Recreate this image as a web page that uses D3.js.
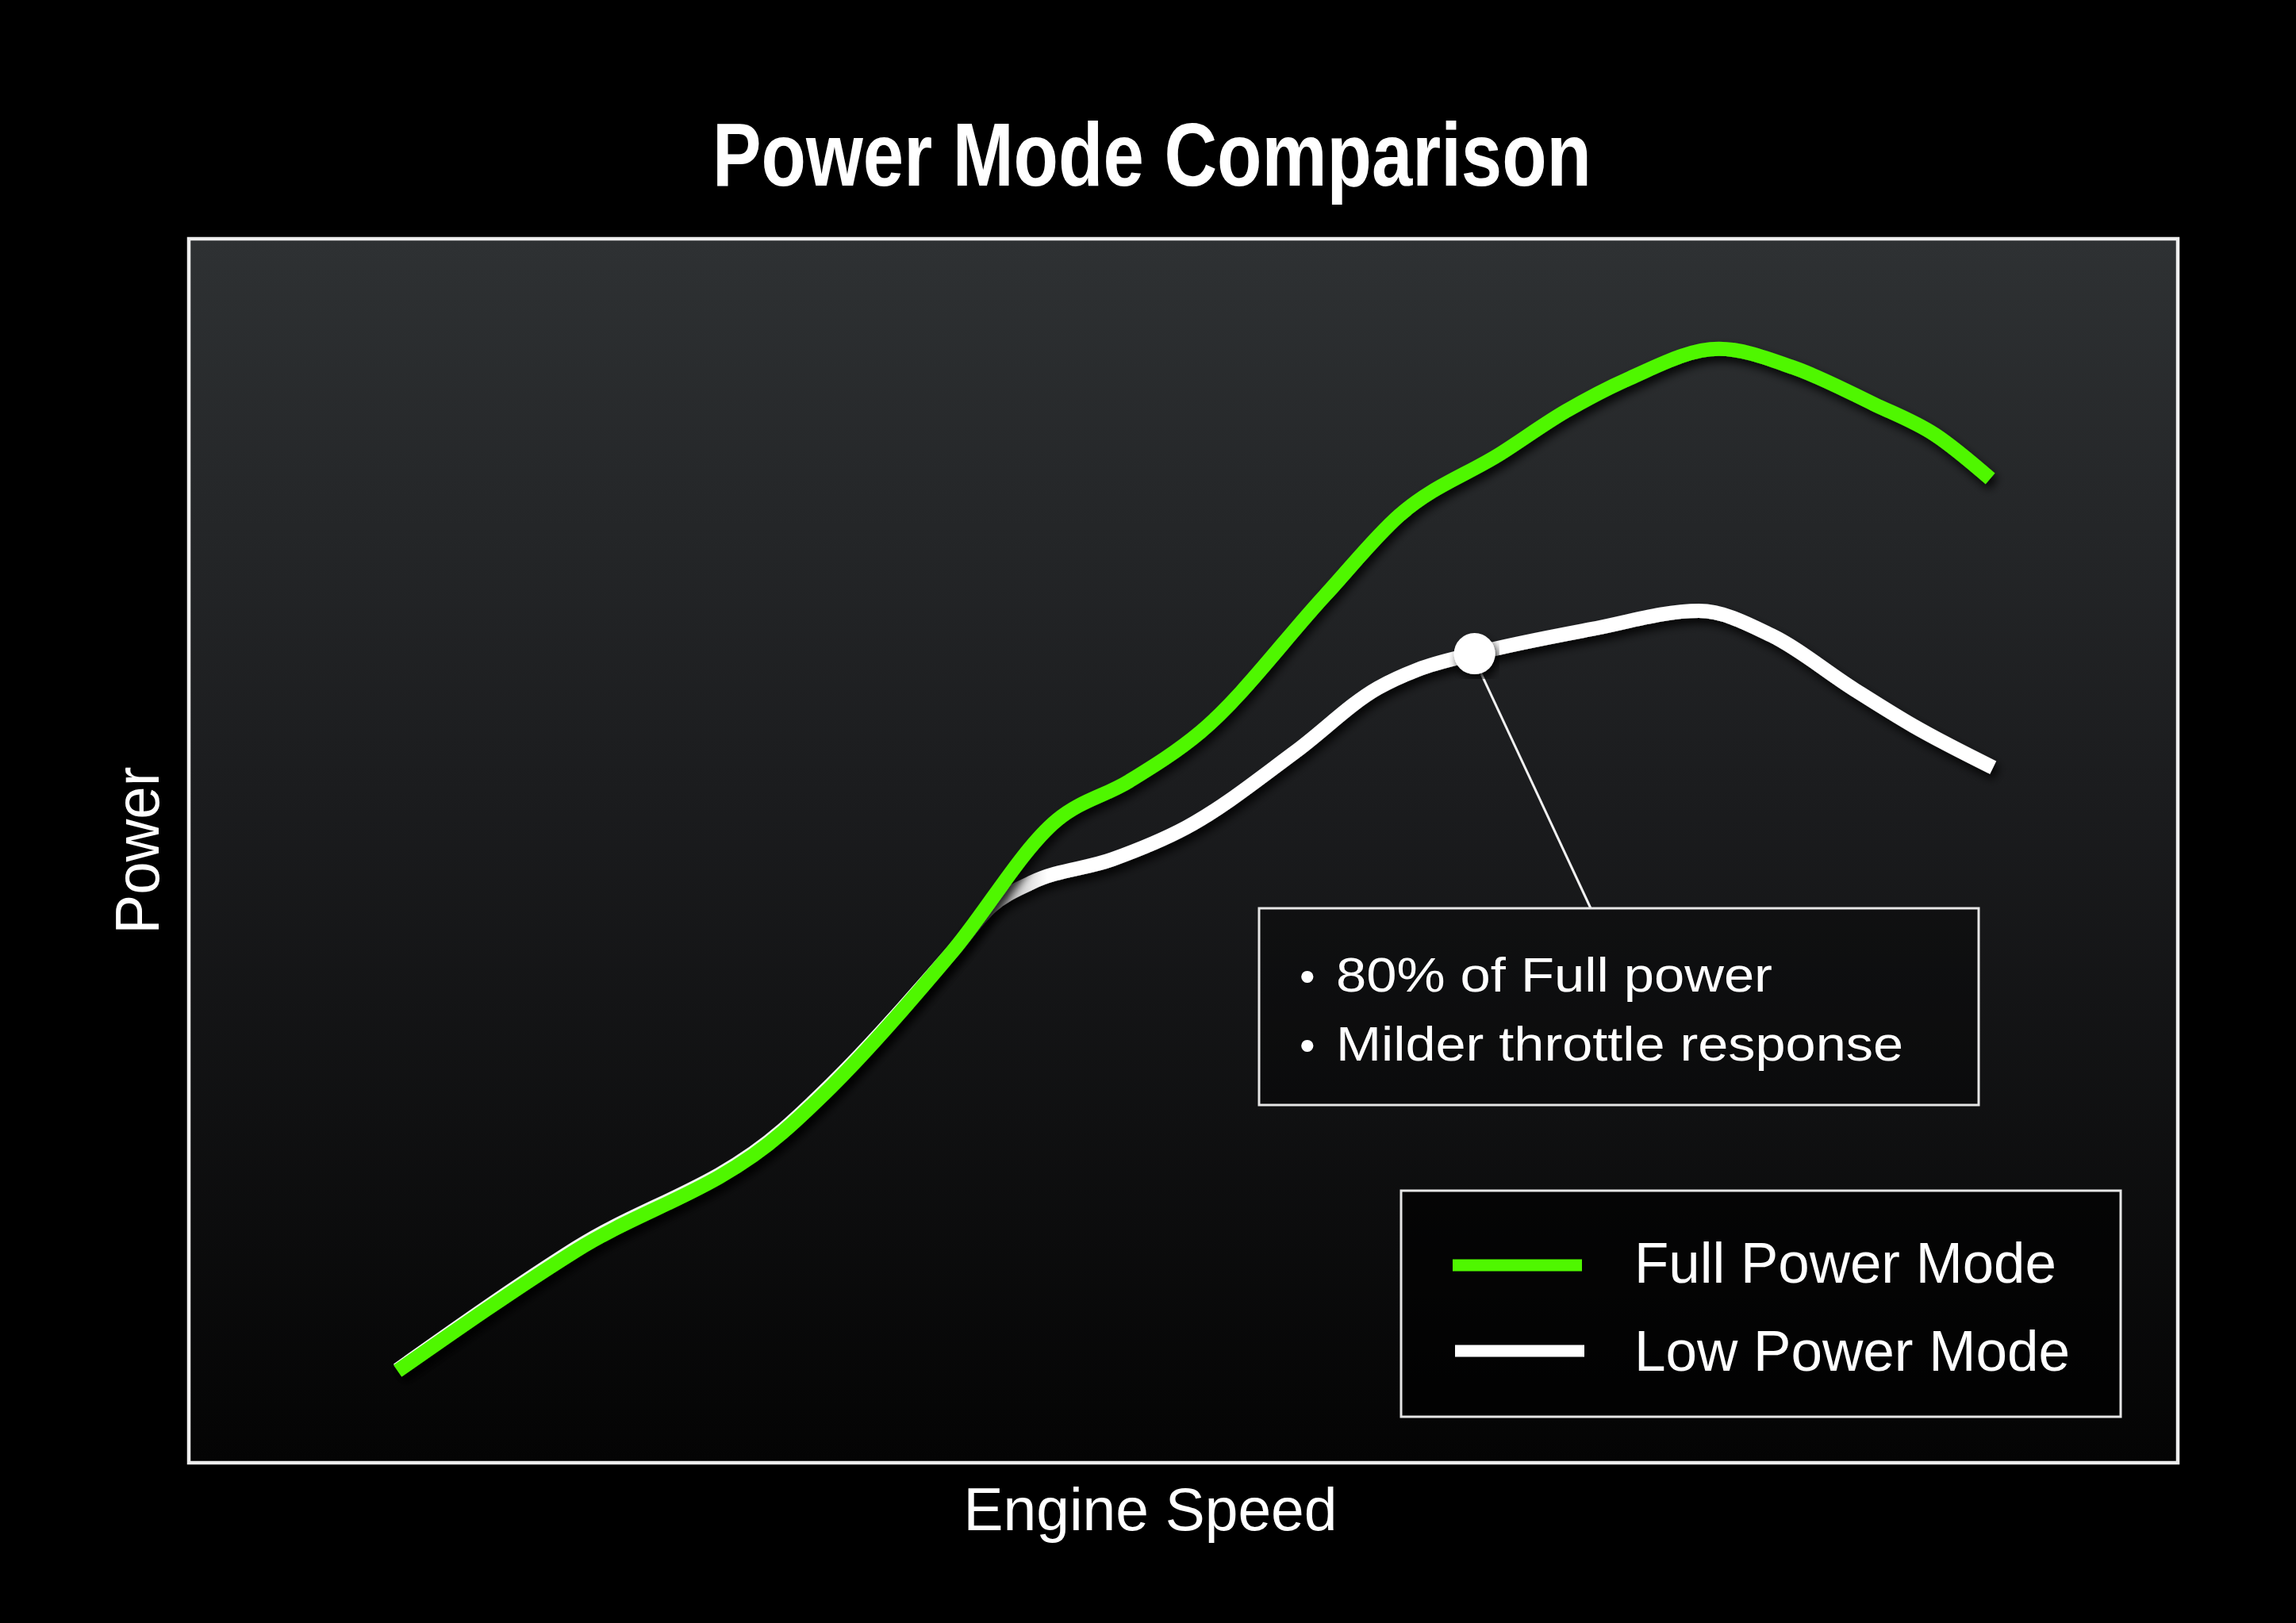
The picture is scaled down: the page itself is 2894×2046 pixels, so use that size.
<!DOCTYPE html>
<html>
<head>
<meta charset="utf-8">
<script src="https://cdn.jsdelivr.net/npm/d3@7"></script>
<style>
  body { margin: 0; background: #000; }
  text { font-family: "Liberation Sans Narrow", "Liberation Sans", Arial, sans-serif; fill: #fff; }
</style>
</head>
<body>
<script>
// values (engine speed in rpm, power in % of axis)
var fullRpm   = [1470, 2720, 4180, 4520, 5370, 6110, 6620, 7120, 8000, 8520, 9240, 9690, 10140, 10770, 11290, 11860, 12290, 12680];
var fullPower = [7.5, 17.3, 27.0, 30.7, 41.7, 52.5, 55.7, 59.7, 70.9, 77.4, 82.5, 85.9, 88.6, 91.0, 89.5, 86.5, 84.0, 80.4];
var lowRpm    = [1470, 2720, 4180, 4520, 5370, 5650, 5930, 6500, 7020, 7790, 8370, 8650, 9050, 9870, 10630, 11140, 11720, 12140, 12700];
var lowPower  = [7.6, 17.5, 27.2, 30.9, 41.7, 45.5, 47.4, 49.3, 51.9, 58.1, 63.3, 64.8, 66.1, 68.1, 69.6, 67.6, 63.2, 60.2, 56.8];
var markerIndex = 12;

var seriesNames  = ["Full Power Mode", "Low Power Mode"];
var seriesColors = ["#4ff700", "#ffffff"];
var noteLines = ["80% of Full power", "Milder throttle response"];

var w = 2894;
var h = 2046;

var svg = d3.select("body")
    .append("svg")
    .attr("width", w)
    .attr("height", h);

var defs = svg.append("defs");

var bg = defs.append("linearGradient")
    .attr("id", "plotBg")
    .attr("x1", 0).attr("y1", 0).attr("x2", 0).attr("y2", 1);
bg.append("stop").attr("offset", 0).attr("stop-color", "#2e3133");
bg.append("stop").attr("offset", 0.45).attr("stop-color", "#1b1c1e");
bg.append("stop").attr("offset", 1).attr("stop-color", "#040404");

// shading where the white curve comes out from under the green one
var lowGrad = defs.append("linearGradient")
    .attr("id", "lowGrad")
    .attr("gradientUnits", "userSpaceOnUse")
    .attr("x1", 1150).attr("y1", 0).attr("x2", 1320).attr("y2", 0);
lowGrad.append("stop").attr("offset", 0).attr("stop-color", "#ffffff");
lowGrad.append("stop").attr("offset", 0.33).attr("stop-color", "#6e6e6e");
lowGrad.append("stop").attr("offset", 1).attr("stop-color", "#ffffff");

var shadow = defs.append("filter")
    .attr("id", "shadow")
    .attr("x", "-10%").attr("y", "-10%").attr("width", "120%").attr("height", "120%");
shadow.append("feDropShadow")
    .attr("dx", 4).attr("dy", 7)
    .attr("stdDeviation", 6)
    .attr("flood-color", "#000")
    .attr("flood-opacity", 0.85);

var x = d3.scaleLinear().domain([0, 14000]).range([238, 2745]);
var y = d3.scaleLinear().domain([0, 100]).range([1844, 301]);

// plot area
svg.append("rect")
    .attr("x", x(0))
    .attr("y", y(100))
    .attr("width", x(14000) - x(0))
    .attr("height", y(0) - y(100))
    .attr("fill", "url(#plotBg)")
    .attr("stroke", "#eeeeee")
    .attr("stroke-width", 4.5);

// title and axis labels
svg.append("text")
    .text("Power Mode Comparison")
    .attr("x", 1452)
    .attr("y", 234)
    .attr("text-anchor", "middle")
    .attr("font-size", "114px")
    .attr("font-weight", "bold")
    .attr("textLength", 1108)
    .attr("lengthAdjust", "spacingAndGlyphs");

svg.append("text")
    .text("Engine Speed")
    .attr("x", 1450)
    .attr("y", 1929)
    .attr("text-anchor", "middle")
    .attr("font-size", "76px")
    .attr("textLength", 471)
    .attr("lengthAdjust", "spacingAndGlyphs");

svg.append("text")
    .text("Power")
    .attr("transform", "translate(200,1072) rotate(-90)")
    .attr("text-anchor", "middle")
    .attr("font-size", "78px")
    .attr("textLength", 211)
    .attr("lengthAdjust", "spacingAndGlyphs");

// annotation box + leader line
var mx = x(lowRpm[markerIndex]);
var my = y(lowPower[markerIndex]);

svg.append("line")
    .attr("x1", mx + 6)
    .attr("y1", my + 20)
    .attr("x2", 2005)
    .attr("y2", 1145)
    .attr("stroke", "#f2f2f2")
    .attr("stroke-width", 3);

svg.append("rect")
    .attr("x", 1587)
    .attr("y", 1145)
    .attr("width", 907)
    .attr("height", 248)
    .attr("fill", "#000")
    .attr("fill-opacity", 0.3)
    .attr("stroke", "#e6e6e6")
    .attr("stroke-width", 3);

var note = svg.append("g");
note.selectAll(".bullet")
    .data(noteLines)
    .enter()
    .append("text")
    .attr("class", "bullet")
    .text("•")
    .attr("x", 1638)
    .attr("y", function(d, i) { return 1250 + i * 87; })
    .attr("font-size", "56px");
note.selectAll(".line")
    .data(noteLines)
    .enter()
    .append("text")
    .attr("class", "line")
    .text(function(d) { return d; })
    .attr("x", 1684)
    .attr("y", function(d, i) { return 1250 + i * 87; })
    .attr("font-size", "61px")
    .attr("textLength", function(d, i) { return i == 0 ? 550 : 715; })
    .attr("lengthAdjust", "spacingAndGlyphs");

// curves
var line = d3.line()
    .x(function(d) { return x(d[0]); })
    .y(function(d) { return y(d[1]); })
    .curve(d3.curveMonotoneX);

var lowData = d3.zip(lowRpm, lowPower);
var fullData = d3.zip(fullRpm, fullPower);

svg.append("path")
    .datum(lowData)
    .attr("d", line)
    .attr("fill", "none")
    .attr("stroke", "url(#lowGrad)")
    .attr("stroke-width", 18)
    .attr("filter", "url(#shadow)");

svg.append("path")
    .datum(fullData)
    .attr("d", line)
    .attr("fill", "none")
    .attr("stroke", seriesColors[0])
    .attr("stroke-width", 18)
    .attr("filter", "url(#shadow)");

svg.append("circle")
    .attr("cx", mx)
    .attr("cy", my)
    .attr("r", 26)
    .attr("fill", "#fff")
    .attr("filter", "url(#shadow)");

// legend
svg.append("rect")
    .attr("x", 1766)
    .attr("y", 1501)
    .attr("width", 907)
    .attr("height", 285)
    .attr("fill", "#000")
    .attr("fill-opacity", 0.6)
    .attr("stroke", "#e6e6e6")
    .attr("stroke-width", 3);

var leg = svg.selectAll(".legend")
    .data(seriesNames)
    .enter()
    .append("g")
    .attr("class", "legend")
    .attr("transform", function(d, i) { return "translate(0," + (i * 108) + ")"; });

leg.append("line")
    .attr("x1", function(d, i) { return 1831 + i * 3; })
    .attr("x2", function(d, i) { return 1994 + i * 3; })
    .attr("y1", 1595)
    .attr("y2", 1595)
    .attr("stroke", function(d, i) { return seriesColors[i]; })
    .attr("stroke-width", 15);

leg.append("text")
    .text(function(d) { return d; })
    .attr("x", 2060)
    .attr("y", function(d, i) { return 1617 + i * 3; })
    .attr("font-size", "72px")
    .attr("textLength", function(d, i) { return i == 0 ? 532 : 549; })
    .attr("lengthAdjust", "spacingAndGlyphs");
</script>
</body>
</html>
